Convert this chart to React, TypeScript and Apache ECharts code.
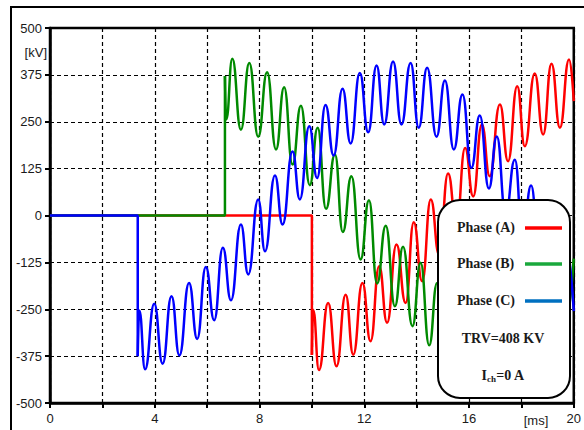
import React, { useEffect, useRef } from "react";
import * as echarts from "echarts";

// Switching instants [ms] at which each phase voltage leaves zero
const switchA = 10.0;
const switchB = 6.68;
const switchC = 3.35;

// Phase (A) transient recovery voltage: [time ms, kV] extrema
const phaseA: number[][] = [
  [10.0, -372], [10.05, -252], [10.27, -412], [10.62, -233], [10.94, -402],
  [11.29, -211], [11.58, -371], [11.93, -180], [12.24, -335], [12.57, -135],
  [12.87, -286], [13.23, -77], [13.58, -233], [13.89, -18], [14.21, -175],
  [14.54, 43], [14.86, -105], [15.2, 112], [15.52, -25], [15.85, 180],
  [16.16, 51], [16.49, 243], [16.79, 105], [17.18, 296], [17.49, 145],
  [17.84, 345], [18.13, 185], [18.51, 379], [18.83, 216], [19.15, 405],
  [19.47, 234], [19.82, 416], [20.0, 305],
];

// Phase (B)
const phaseB: number[][] = [
  [6.68, 372], [6.73, 256], [6.96, 418], [7.29, 229], [7.61, 407],
  [7.95, 210], [8.29, 382], [8.63, 176], [8.94, 342], [9.26, 136],
  [9.58, 293], [9.92, 81], [10.22, 234], [10.54, 18], [10.88, 163],
  [11.18, -44], [11.51, 105], [11.86, -117], [12.18, 41], [12.49, -181],
  [12.82, -27], [13.17, -242], [13.48, -83], [13.84, -295], [14.15, -126],
  [14.48, -346], [14.78, -180], [15.13, -385], [15.43, -225], [15.78, -405],
  [16.08, -250], [16.43, -410], [16.73, -255], [17.08, -400], [17.38, -250],
  [17.73, -385], [18.03, -232], [18.38, -360], [18.68, -200], [19.03, -325],
  [19.33, -165], [19.68, -280], [20.0, -115],
];

// Phase (C)
const phaseC: number[][] = [
  [3.35, -375], [3.41, -253], [3.63, -410], [3.98, -235], [4.3, -395],
  [4.64, -215], [4.94, -373], [5.31, -180], [5.62, -329], [5.95, -137],
  [6.27, -279], [6.6, -86], [6.91, -226], [7.29, -24], [7.57, -157],
  [7.95, 43], [8.21, -95], [8.59, 107], [8.88, -24], [9.26, 171],
  [9.54, 43], [9.9, 238], [10.2, 100], [10.52, 295], [10.83, 160],
  [11.17, 338], [11.48, 192], [11.83, 380], [12.15, 222], [12.47, 400],
  [12.76, 243], [13.1, 411], [13.42, 243], [13.77, 407], [14.08, 234],
  [14.4, 394], [14.76, 210], [15.08, 360], [15.42, 176], [15.75, 323],
  [16.09, 127], [16.41, 267], [16.76, 72], [17.06, 211], [17.4, 5],
  [17.75, 149], [18.05, -60], [18.37, 80], [18.7, -130], [19.02, 5],
  [19.35, -195], [19.67, -70], [20.0, -255],
];

const xMin = 0;
const xMax = 20;
const xStep = 2;
const yMin = -500;
const yMax = 500;
const yStep = 125;

const legendNames = ["Phase (A)", "Phase (B)", "Phase (C)"];
const trvText = "TRV=408 KV";

const curveColors = ["#ff0000", "#008a00", "#0000ff"];
const legendColors = ["#ff0000", "#1aa83c", "#0070c0"];

function preSegment(t: number, first: number[]): number[][] {
  return [[0, 0], [t, 0], [t, first[1]]];
}

export default function App() {
  const ref = useRef<HTMLDivElement>(null);
  useEffect(() => {
    if (!ref.current) return;
    const chart = echarts.init(ref.current, undefined, { renderer: "svg" });
    const phases = [phaseA, phaseB, phaseC];
    const switches = [switchA, switchB, switchC];
    const series: any[] = [];
    phases.forEach((p, i) => {
      series.push({
        type: "line",
        data: preSegment(switches[i], p[0]),
        showSymbol: false,
        symbol: "none",
        lineStyle: { color: curveColors[i], width: 2.5 },
        z: 2 + i,
      });
      series.push({
        type: "line",
        data: p,
        showSymbol: false,
        symbol: "none",
        smooth: 0.5,
        smoothMonotone: "x",
        lineStyle: { color: curveColors[i], width: 2.5 },
        z: 2 + i,
      });
    });

    const serif = "'Liberation Serif', 'Times New Roman', serif";
    const legendX = 457;
    const legendYs = [227, 263, 300];
    const graphic: any[] = [
      {
        type: "rect",
        shape: { x: 11, y: 7, width: 640, height: 480 },
        style: { fill: "none", stroke: "#000", lineWidth: 2 },
        z: 100,
        silent: true,
      },
      {
        type: "text",
        x: 47,
        y: 52,
        style: {
          text: "[kV]",
          align: "right",
          verticalAlign: "middle",
          fill: "#1a1a1a",
          font: "13px 'Liberation Sans', Arial, sans-serif",
        },
        z: 100,
      },
      {
        type: "text",
        x: 536,
        y: 420,
        style: {
          text: "[ms]",
          align: "center",
          verticalAlign: "middle",
          fill: "#1a1a1a",
          font: "13px 'Liberation Sans', Arial, sans-serif",
        },
        z: 100,
      },
      {
        type: "rect",
        shape: { x: 438, y: 200, width: 132, height: 198, r: 22 },
        style: { fill: "#fff", stroke: "#000", lineWidth: 2 },
        z: 100,
      },
    ];
    legendNames.forEach((name, i) => {
      graphic.push({
        type: "text",
        x: legendX,
        y: legendYs[i],
        style: {
          text: name,
          align: "left",
          verticalAlign: "middle",
          fill: "#1a1a1a",
          font: `bold 14px ${serif}`,
        },
        z: 101,
      });
      graphic.push({
        type: "line",
        shape: { x1: 525, y1: legendYs[i] + 1, x2: 562, y2: legendYs[i] + 1 },
        style: { stroke: legendColors[i], lineWidth: 3.5 },
        z: 101,
      });
    });
    graphic.push({
      type: "text",
      x: 503,
      y: 338,
      style: {
        text: trvText,
        align: "center",
        verticalAlign: "middle",
        fill: "#1a1a1a",
        font: `bold 14px ${serif}`,
      },
      z: 101,
    });
    graphic.push({
      type: "text",
      x: 503,
      y: 375,
      style: {
        text: "{a|I}{s|ch}{a|=0 A}",
        align: "center",
        verticalAlign: "middle",
        rich: {
          a: {
            fontFamily: serif,
            fontWeight: "bold",
            fontSize: 14,
            lineHeight: 16,
            fill: "#1a1a1a",
            color: "#1a1a1a",
          },
          s: {
            fontFamily: serif,
            fontWeight: "bold",
            fontSize: 9,
            lineHeight: 9,
            verticalAlign: "bottom",
            color: "#1a1a1a",
            fill: "#1a1a1a",
          },
        },
      },
      z: 101,
    });

    const labelFont = {
      color: "#1a1a1a",
      fontFamily: "'Liberation Sans', Arial, sans-serif",
      fontSize: 13,
    };

    chart.setOption({
      animation: false,
      backgroundColor: "#fff",
      grid: {
        left: 50,
        top: 28,
        width: 525,
        height: 375,
        show: true,
        borderColor: "#000",
        borderWidth: 2.5,
        backgroundColor: "transparent",
        containLabel: false,
      },
      xAxis: {
        type: "value",
        min: xMin,
        max: xMax,
        interval: xStep,
        axisLine: { show: true, onZero: false, lineStyle: { color: "#000", width: 2.5 } },
        axisTick: { show: true, length: 5, lineStyle: { color: "#000", width: 2 } },
        axisLabel: {
          ...labelFont,
          margin: 9,
          showMinLabel: true,
          showMaxLabel: true,
          formatter: (v: number) => (v % 4 === 0 ? String(v) : ""),
        },
        splitLine: { show: true, lineStyle: { color: "#000", width: 1.2, type: [4, 3] } },
      },
      yAxis: {
        type: "value",
        min: yMin,
        max: yMax,
        interval: yStep,
        axisLine: { show: true, onZero: false, lineStyle: { color: "#000", width: 2.5 } },
        axisTick: { show: true, length: 5, lineStyle: { color: "#000", width: 2 } },
        axisLabel: { ...labelFont, margin: 8, showMinLabel: true, showMaxLabel: true },
        splitLine: { show: true, lineStyle: { color: "#000", width: 1.2, type: [4, 3] } },
      },
      series,
      graphic,
    });
    return () => chart.dispose();
  }, []);
  return (
    <div
      ref={ref}
      style={{ position: "absolute", left: 0, top: 0, width: 584, height: 430, background: "#fff" }}
    />
  );
}
